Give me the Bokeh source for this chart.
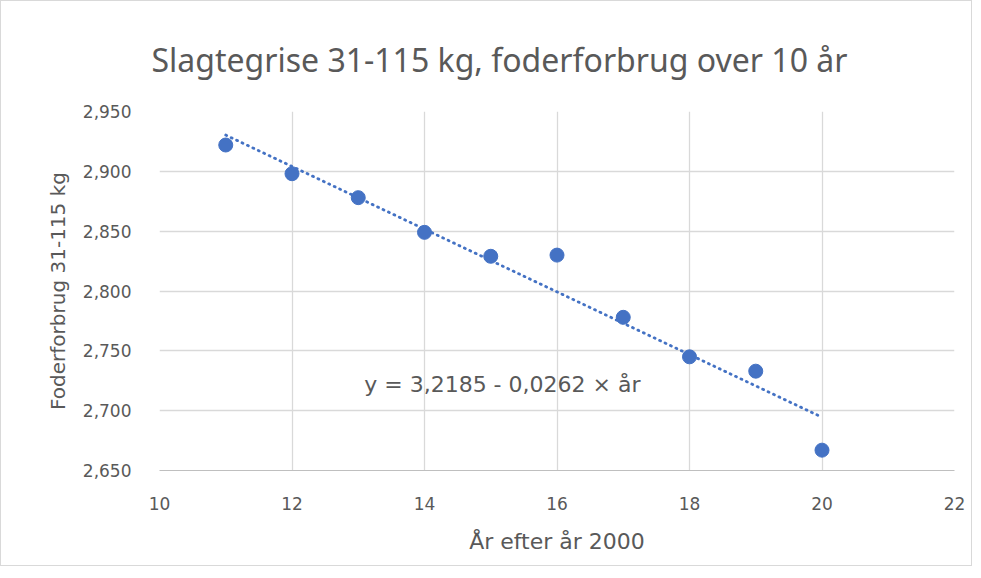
from bokeh.plotting import figure
from bokeh.models import FixedTicker, CustomJSTickFormatter, Label, Title
from bokeh.embed import file_html
from bokeh.resources import INLINE

years = [11, 12, 13, 14, 15, 16, 17, 18, 19, 20]
feed = [2.922, 2.898, 2.878, 2.849, 2.829, 2.830, 2.778, 2.745, 2.733, 2.667]
intercept = 3.2185
slope = -0.0262
x_ticks = [10, 12, 14, 16, 18, 20, 22]
y_ticks = [2.65, 2.70, 2.75, 2.80, 2.85, 2.90, 2.95]
title_text = "Slagtegrise 31-115 kg, foderforbrug over 10 år"
x_label = "År efter år 2000"
y_label = "Foderforbrug 31-115 kg"
eq_text = "y = 3,2185 - 0,0262 × år"

BLUE = "#4472C4"
GREY = "#595959"
FONT = "DejaVu Sans"

p = figure(width=972, height=566, output_backend="svg", toolbar_location=None,
           x_range=(10, 22), y_range=(2.65, 2.95),
           min_border_left=158, min_border_right=19, min_border_top=110, min_border_bottom=97)
p.outline_line_color = None
p.styles = {"border": "1px solid #d9d9d9"}

t = Title(text=title_text, align="left", text_font="Noto Sans", text_font_size="32px",
          text_color=GREY, text_font_style="normal", offset=-8, standoff=62)
p.add_layout(t, "above")

for ax in (p.xaxis[0], p.yaxis[0]):
    ax.major_tick_line_color = None
    ax.minor_tick_line_color = None
    ax.major_label_text_font = FONT
    ax.major_label_text_font_size = "17px"
    ax.major_label_text_color = GREY
    ax.axis_label_text_font = FONT
    ax.axis_label_text_color = GREY
    ax.axis_label_text_font_style = "normal"

p.xaxis.axis_label_text_font_size = "22px"
p.yaxis.axis_label_text_font_size = "20px"
p.xaxis.ticker = FixedTicker(ticks=x_ticks)
p.yaxis.ticker = FixedTicker(ticks=y_ticks)
p.yaxis.formatter = CustomJSTickFormatter(code="return tick.toFixed(3).replace('.', ',');")
p.xaxis.axis_label = x_label
p.yaxis.axis_label = y_label
p.xaxis.axis_line_color = "#bfbfbf"
p.yaxis.axis_line_color = None
p.xaxis.major_label_standoff = 20
p.yaxis.major_label_standoff = 22
p.xaxis.axis_label_standoff = 16
p.yaxis.axis_label_standoff = 10

p.xgrid.grid_line_color = "#d9d9d9"
p.ygrid.grid_line_color = "#d9d9d9"
p.xgrid.grid_line_width = 1.3
p.ygrid.grid_line_width = 1.3

tx = [years[0], years[-1]]
ty = [intercept + slope * v for v in tx]
p.line(tx, ty, line_color=BLUE, line_width=2.8, line_dash="1 5", line_cap="round")
p.scatter(years, feed, size=14, fill_color=BLUE, line_color=BLUE)

p.add_layout(Label(x=13.09, y=2.722, text=eq_text, text_font=FONT, text_font_size="22px",
                   text_color=GREY, text_baseline="middle"))

open("out.html", "w").write(file_html(p, INLINE))
